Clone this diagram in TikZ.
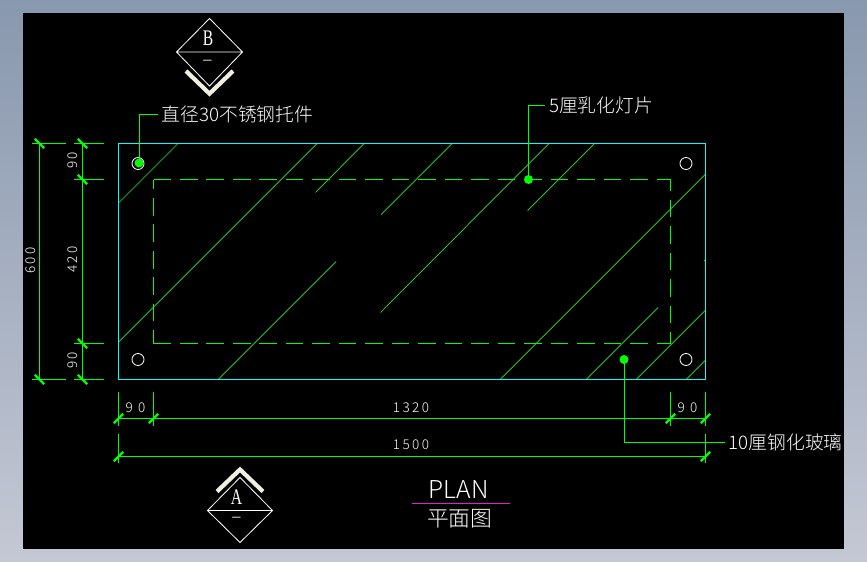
\documentclass[tikz,border=0pt]{standalone}
\usepackage{fontspec}
\setmainfont{Liberation Serif}
\newfontfamily\cjk{Noto Sans CJK SC}[UprightFont={* Light}]
\newfontfamily\cjkwide{Noto Sans CJK SC}[UprightFont={* Light},LetterSpace=18]
\definecolor{framebluetop}{HTML}{8898AE}
\definecolor{framebluebot}{HTML}{C4C8D4}
\definecolor{panelcyan}{HTML}{00FFFF}
\definecolor{cadgreen}{HTML}{00FF00}
\definecolor{hatchgreen}{HTML}{28E828}
\definecolor{chevron}{HTML}{F0EFE2}
\definecolor{rulemagenta}{HTML}{E020D0}
\tikzset{
	cadline/.style={line width=0.85pt},
	dimline/.style={cadline,color=cadgreen},
	dimtick/.style={line width=1.9pt,color=cadgreen},
	hatchline/.style={line width=0.6pt,color=hatchgreen},
	outline/.style={line width=1pt,color=panelcyan},
	lamp/.style={dimline,dash pattern=on 15pt off 7.6pt},
	hole/.style={circle,draw=white,line width=0.7pt,minimum size=12*0.853pt,inner sep=0pt},
	dotmark/.style={circle,fill=cadgreen,minimum size=9*0.853pt,inner sep=0pt},
	diamondline/.style={color=white,line width=0.7pt},
	chevronline/.style={color=chevron,line width=3.6pt},
	cadtext/.style={text=white,inner sep=0pt,font=\cjk\fontsize{16}{17}\selectfont},
	dimtext/.style={text=white,inner sep=0pt,font=\cjkwide\fontsize{11.5}{12}\selectfont},
	leadertext/.style={cadtext,anchor=west,inner sep=3.4pt},
	marktext/.style={text=white,inner sep=0pt,font=\fontsize{19}{19}\selectfont},
	markdash/.style={text=white,inner sep=0pt,font=\fontsize{14}{14}\selectfont},
}
\begin{document}
\begin{tikzpicture}[x=0.03cm,y=-0.03cm]
	\useasboundingbox (0,0) rectangle (867,562);
	\shade[top color=framebluetop,bottom color=framebluebot] (0,0) rectangle (867,562);
	\fill[black] (23,13) rectangle (844,548.5);
	% glass hatching
	\foreach \ax/\ay/\bx/\by in {118.5/203/178/143.5,118.5/342/317/143.5,315.5/192.5/364/143.5,
		381/214.5/452/143.5,380.5/312.5/549/143.5,527.5/210.5/594.5/143.5,218/379.5/336/261.5,
		500/379.5/705.5/174,586/379.5/658/307.5,636/379.5/705.5/310,686/379.5/705.5/360,
		704/261/705.5/259.5}
		\draw[hatchline] (\ax,\ay)--(\bx,\by);
	% panel and lamp outline
	\draw[outline] (118.5,143.5) rectangle (705.5,379.5);
	\draw[lamp] (153.5,179.5)--(670.5,179.5);
	\draw[lamp,dash phase=6.8pt] (153.5,179.5)--(153.5,343.5);
	\draw[lamp] (153.5,343.5)--(670.5,343.5);
	\draw[lamp,dash phase=5.3pt] (670.5,179.5)--(670.5,343.5);
	% fixings
	\node[hole] (holeNW) at (138,163.5) {};
	\node[hole] (holeNE) at (686,163.5) {};
	\node[hole] (holeSW) at (138,359.5) {};
	\node[hole] (holeSE) at (686,359.5) {};
	% leaders
	\node[dotmark] (dotFix) at (139,163) {};
	\node[dotmark] (dotLamp) at (528.5,179.5) {};
	\node[dotmark] (dotGlass) at (624,359.5) {};
	\node[leadertext] (txtFix) at (157.5,114) {直径30不锈钢托件};
	\node[leadertext] (txtLamp) at (545,105) {5厘乳化灯片};
	\node[leadertext] (txtGlass) at (724.5,442) {10厘钢化玻璃};
	\draw[dimline] (dotFix.center) |- (txtFix.west);
	\draw[dimline] (dotLamp.center) |- (txtLamp.west);
	\draw[dimline] (dotGlass.center) |- (txtGlass.west);
	% vertical dimensions
	\draw[dimline] (39.5,143.5)--(39.5,379.5);
	\draw[dimline] (82.5,143.5)--(82.5,379.5);
	\foreach \py in {143.5,379.5}
		\draw[dimline] (32,\py)--(66,\py);
	\foreach \py in {143.5,179.5,343.5,379.5}
		\draw[dimline] (74,\py)--(104,\py);
	\foreach \px/\py in {39.5/143.5,39.5/379.5,82.5/143.5,82.5/179.5,82.5/343.5,82.5/379.5}
		\draw[dimtick] (\px-4.7,\py-4.7)--(\px+4.7,\py+4.7);
	\node[dimtext,rotate=90] (dimH) at (31,260.5) {600};
	\node[dimtext,rotate=90] (dimA) at (73,160.5) {90};
	\node[dimtext,rotate=90] (dimB) at (73,259.5) {420};
	\node[dimtext,rotate=90] (dimC) at (73,360.5) {90};
	% horizontal dimensions
	\draw[dimline] (118.5,418.5)--(705.5,418.5);
	\draw[dimline] (118.5,456.5)--(705.5,456.5);
	\foreach \px in {118.5,153.5,670.5,705.5}
		\draw[dimline] (\px,392)--(\px,426);
	\foreach \px in {118.5,705.5}
		\draw[dimline] (\px,434)--(\px,463);
	\foreach \px/\py in {118.5/418.5,153.5/418.5,670.5/418.5,705.5/418.5,118.5/456.5,705.5/456.5}
		\draw[dimtick] (\px-4.7,\py+4.7)--(\px+4.7,\py-4.7);
	\node[dimtext] (dimL) at (135.5,408) {9 0};
	\node[dimtext] (dimM) at (411,408) {1320};
	\node[dimtext] (dimR) at (687.5,408) {9 0};
	\node[dimtext] (dimW) at (411,445) {1500};
	% section marks
	\draw[diamondline] (176.5,52)--(209.5,18.5)--(242.5,52)--(209.5,86)--cycle (176.5,52)--(242.5,52);
	\draw[chevronline] (186,71)--(209.5,93.7)--(233,71);
	\node[marktext] (markB) at (208,38) {\scalebox{0.7}[1]{B}};
	\node[markdash] (dashB) at (207.5,62) {–};
	\draw[diamondline] (207.5,510.5)--(240,477.5)--(272.5,510.5)--(240,542.5)--cycle (207.5,510.5)--(272.5,510.5);
	\draw[chevronline] (217,491.5)--(240,469.5)--(263,491.5);
	\node[marktext] (markA) at (236.5,497) {\scalebox{0.7}[1]{A}};
	\node[markdash] (dashA) at (236.5,519) {–};
	% title
	\node[text=white,inner sep=0pt,font=\cjk\fontsize{21}{22}\selectfont] (title) at (458.5,490) {PLAN};
	\node[text=white,inner sep=0pt,font=\cjk\fontsize{18.6}{19}\selectfont] (subtitle) at (459.7,519) {平面图};
	\draw[cadline,color=rulemagenta] (412,503.5)--(510,503.5);
\end{tikzpicture}
\end{document}
